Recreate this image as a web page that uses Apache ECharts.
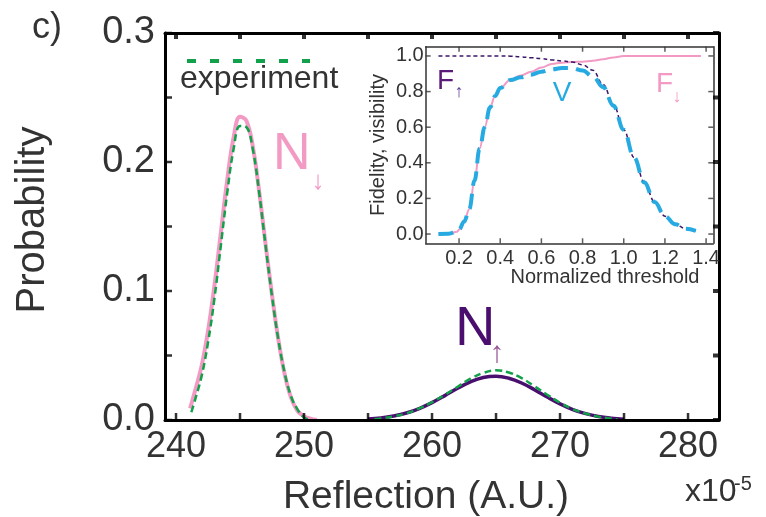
<!DOCTYPE html>
<html>
<head>
<meta charset="utf-8">
<script src="https://cdn.jsdelivr.net/npm/echarts@6/dist/echarts.min.js"></script>
<style>
html,body{margin:0;padding:0;background:#fff;}
#chart{width:766px;height:517px;}
</style>
</head>
<body>
<div id="chart"></div>
<script>
// ---------- Main panel data (Reflection x10^-5, Probability) ----------
var downTheoryX = [241.1, 241.5, 242, 242.5, 243, 243.5, 244, 244.5, 245, 245.5, 246, 246.5, 247, 247.5, 248, 248.5, 249, 249.5, 250, 250.5, 251];
var downTheoryY = [0.009, 0.023, 0.042, 0.069, 0.104, 0.145, 0.186, 0.219, 0.235, 0.232, 0.212, 0.177, 0.136, 0.097, 0.062, 0.035, 0.017, 0.007, 0.003, 0.001, 0.0];

var downExpX = [241.2, 241.5, 242, 242.5, 243, 243.5, 244, 244.5, 245, 245.5, 246, 246.5, 247, 247.5, 248, 248.5, 249, 249.5, 250, 250.5];
var downExpY = [0.006, 0.016, 0.034, 0.060, 0.094, 0.135, 0.176, 0.210, 0.228, 0.227, 0.210, 0.176, 0.135, 0.096, 0.062, 0.036, 0.018, 0.008, 0.002, 0.0];

var upTheoryX = [255, 256, 257, 258, 259, 260, 261, 262, 263, 264, 265, 266, 267, 268, 269, 270, 271, 272, 273, 274, 275];
var upTheoryY = [0.0008, 0.0016, 0.0031, 0.0054, 0.0089, 0.0135, 0.0189, 0.0246, 0.0296, 0.0330, 0.0340, 0.0324, 0.0287, 0.0235, 0.0178, 0.0125, 0.0081, 0.0049, 0.0027, 0.0014, 0.0006];

var upExpX = [255.5, 256, 257, 258, 259, 260, 261, 262, 263, 264, 265, 266, 267, 268, 269, 270, 271, 272, 273, 274, 274.5];
var upExpY = [0.0005, 0.0012, 0.0028, 0.0052, 0.0090, 0.0138, 0.0195, 0.0258, 0.0320, 0.0365, 0.0385, 0.0368, 0.0325, 0.0262, 0.0196, 0.0134, 0.0084, 0.0050, 0.0026, 0.0010, 0.0004];

// main ticks / labels
var mainXTicks = [240, 245, 250, 255, 260, 265, 270, 275, 280];
var mainXLabelStep = 10;
var mainYTicks = [0, 0.05, 0.1, 0.15, 0.2, 0.25, 0.3];
var mainYLabelStep = 0.1;

// ---------- Inset data (Normalized threshold, Fidelity / visibility) ----------
var thr = [0.1, 0.15, 0.19, 0.2, 0.225, 0.25, 0.275, 0.3, 0.325, 0.35, 0.375, 0.4, 0.45, 0.5, 0.55, 0.6, 0.65, 0.7, 0.75, 0.8, 0.85, 0.9, 0.95, 1.0, 1.05, 1.1, 1.15, 1.2, 1.25, 1.3, 1.35];
var fidUp = [1.0, 1.0, 1.0, 1.0, 1.0, 1.0, 1.0, 1.0, 1.0, 1.0, 1.0, 1.0, 0.999, 0.995, 0.99, 0.985, 0.978, 0.972, 0.966, 0.95, 0.92, 0.84, 0.728, 0.585, 0.43, 0.29, 0.18, 0.10, 0.055, 0.03, 0.018];
var visib = [0.0, 0.002, 0.013, 0.025, 0.07, 0.14, 0.30, 0.48, 0.60, 0.71, 0.775, 0.82, 0.865, 0.88, 0.895, 0.912, 0.925, 0.932, 0.932, 0.918, 0.885, 0.825, 0.72, 0.585, 0.43, 0.29, 0.18, 0.10, 0.055, 0.03, 0.018];
var thrDown = [0.1, 0.15, 0.19, 0.2, 0.225, 0.25, 0.275, 0.3, 0.325, 0.35, 0.375, 0.4, 0.45, 0.5, 0.55, 0.6, 0.65, 0.7, 0.75, 0.8, 0.85, 0.9, 0.95, 1.0, 1.1, 1.2, 1.3, 1.375];
var fidDown = [0.0, 0.002, 0.013, 0.025, 0.07, 0.14, 0.30, 0.48, 0.60, 0.71, 0.775, 0.82, 0.866, 0.89, 0.912, 0.935, 0.955, 0.962, 0.966, 0.968, 0.973, 0.982, 0.992, 1.0, 1.0, 1.0, 1.0, 1.0];

var insetXTicks = [0.2, 0.4, 0.6, 0.8, 1.0, 1.2, 1.4];
var insetYTicks = [0.0, 0.2, 0.4, 0.6, 0.8, 1.0];

function pairs(xs, ys) { return xs.map(function (x, i) { return [x, ys[i]]; }); }

// ---------- layout ----------
var FONT = "'Liberation Sans', Arial, Helvetica, sans-serif";
var PINK = '#f39ac4';
var GREEN = '#12a04a';
var PURPLE = '#4a0f6e';
var BLUE = '#27aae1';
var TXT = '#333333';

var MF = {left: 165, top: 33, width: 554, height: 387, xmin: 239.14, xmax: 282.42, ymin: 0, ymax: 0.3};
var IF = {left: 425.7, top: 46.7, width: 287.6, height: 196.6, xmin: 0.038, xmax: 1.435, ymin: -0.052, ymax: 1.052};

function xSpan(F, x0, x1) {
  var s = F.width / (F.xmax - F.xmin);
  var l = F.left + (x0 - F.xmin) * s, r = F.left + (x1 - F.xmin) * s;
  return {left: l, width: r - l, top: F.top, height: F.height};
}
function ySpan(F, y0, y1) {
  var s = F.height / (F.ymax - F.ymin);
  var t = F.top + (F.ymax - y1) * s, b = F.top + (F.ymax - y0) * s;
  return {left: F.left, width: F.width, top: t, height: b - t};
}
var first = function (a) { return a[0]; }, last = function (a) { return a[a.length - 1]; };
var MX = xSpan(MF, first(mainXTicks), last(mainXTicks));
var IX = xSpan(IF, first(insetXTicks), last(insetXTicks));
var IY = ySpan(IF, first(insetYTicks), last(insetYTicks));

function isMultiple(v, step) { var q = v / step; return Math.abs(q - Math.round(q)) < 1e-6; }

var chart = echarts.init(document.getElementById('chart'), null, {renderer: 'canvas'});

function lineAxis(grid, pos, min, max, color, width) {
  return {type: 'value', gridIndex: grid, min: min, max: max, position: pos, z: 6,
          axisLine: {show: true, onZero: false, lineStyle: {color: color, width: width}},
          axisTick: {show: false}, axisLabel: {show: false}, splitLine: {show: false}};
}
function hiddenAxis(grid, min, max) {
  return {type: 'value', gridIndex: grid, min: min, max: max, show: false, splitLine: {show: false}};
}
function labelAxis(grid, pos, min, max, step, label) {
  return {type: 'value', gridIndex: grid, min: min, max: max, interval: step, position: pos, z: 7,
          axisLine: {show: false, onZero: false}, axisTick: {show: false}, axisLabel: label, splitLine: {show: false}};
}

// tick marks drawn as small rectangles at the tick values (through the axes' scales)
function tickSeries(xi, yi, data, w, h, ox, oy, color) {
  return {type: 'scatter', xAxisIndex: xi, yAxisIndex: yi, data: data, symbol: 'rect', symbolSize: [w, h],
          symbolOffset: [ox, oy], itemStyle: {color: color}, silent: true, clip: false, z: 8,
          emphasis: {disabled: true}, tooltip: {show: false}};
}
var atY = function (vals, y) { return vals.map(function (v) { return [v, y]; }); };
var atX = function (vals, x) { return vals.map(function (v) { return [x, v]; }); };

var option = {
  animation: false,
  backgroundColor: '#ffffff',
  grid: [
    {left: MF.left, top: MF.top, width: MF.width, height: MF.height},
    {left: MX.left, top: MX.top, width: MX.width, height: MX.height},
    {left: IF.left, top: IF.top, width: IF.width, height: IF.height, show: true, backgroundColor: '#ffffff', borderWidth: 0, z: 3},
    {left: IX.left, top: IX.top, width: IX.width, height: IX.height},
    {left: IY.left, top: IY.top, width: IY.width, height: IY.height}
  ],
  xAxis: [
    lineAxis(0, 'bottom', MF.xmin, MF.xmax, '#000', 3),                                   // 0
    lineAxis(0, 'top', MF.xmin, MF.xmax, '#000', 3),                                      // 1
    labelAxis(1, 'bottom', first(mainXTicks), last(mainXTicks), mainXTicks[1] - mainXTicks[0],
      {fontSize: 36, color: TXT, fontFamily: FONT, margin: 9, showMinLabel: true, showMaxLabel: true,
       formatter: function (v) { return isMultiple(v, mainXLabelStep) ? String(Math.round(v)) : ''; }}), // 2
    lineAxis(2, 'bottom', IF.xmin, IF.xmax, '#333', 1.5),                                 // 3
    lineAxis(2, 'top', IF.xmin, IF.xmax, '#333', 1.5),                                    // 4
    labelAxis(3, 'bottom', first(insetXTicks), last(insetXTicks), 0.2,
      {fontSize: 20, color: TXT, fontFamily: FONT, margin: 5, showMinLabel: true, showMaxLabel: true,
       formatter: function (v) { return v.toFixed(1); }}),                               // 5
    hiddenAxis(4, IF.xmin, IF.xmax)                                                       // 6
  ],
  yAxis: [
    labelAxis(0, 'left', MF.ymin, MF.ymax, mainYTicks[1] - mainYTicks[0],
      {fontSize: 38, color: TXT, fontFamily: FONT, margin: 10, showMinLabel: true, showMaxLabel: true,
       formatter: function (v) { return isMultiple(v, mainYLabelStep) ? v.toFixed(1) : ''; }}), // 0
    lineAxis(0, 'left', MF.ymin, MF.ymax, '#000', 3),                                     // 1
    lineAxis(0, 'right', MF.ymin, MF.ymax, '#000', 3),                                    // 2
    hiddenAxis(1, MF.ymin, MF.ymax),                                                      // 3
    lineAxis(2, 'left', IF.ymin, IF.ymax, '#333', 1.5),                                   // 4
    lineAxis(2, 'right', IF.ymin, IF.ymax, '#333', 1.5),                                  // 5
    hiddenAxis(3, IF.ymin, IF.ymax),                                                      // 6
    labelAxis(4, 'left', first(insetYTicks), last(insetYTicks), 0.2,
      {fontSize: 20, color: TXT, fontFamily: FONT, margin: 2, showMinLabel: true, showMaxLabel: true,
       formatter: function (v) { return v.toFixed(1); }})                                // 7
  ],
  series: [
    {name: 'N down (theory)', type: 'line', xAxisIndex: 0, yAxisIndex: 1, data: pairs(downTheoryX, downTheoryY),
     smooth: 0.4, showSymbol: false, lineStyle: {color: PINK, width: 4}, z: 2},
    {name: 'N up (theory)', type: 'line', xAxisIndex: 0, yAxisIndex: 1, data: pairs(upTheoryX, upTheoryY),
     smooth: 0.4, showSymbol: false, lineStyle: {color: PURPLE, width: 3.5}, z: 2},
    {name: 'experiment', type: 'line', xAxisIndex: 0, yAxisIndex: 1, data: pairs(downExpX, downExpY),
     smooth: 0.4, showSymbol: false, lineStyle: {color: GREEN, width: 2.5, type: [7, 4]}, z: 3},
    {name: 'experiment up', type: 'line', xAxisIndex: 0, yAxisIndex: 1, data: pairs(upExpX, upExpY),
     smooth: 0.4, showSymbol: false, lineStyle: {color: GREEN, width: 2.5, type: [7, 4]}, z: 3},
    {name: 'F down', type: 'line', xAxisIndex: 3, yAxisIndex: 4, data: pairs(thrDown, fidDown),
     smooth: 0.4, smoothMonotone: 'x', showSymbol: false, lineStyle: {color: PINK, width: 2}, z: 5},
    {name: 'F up', type: 'line', xAxisIndex: 3, yAxisIndex: 4, data: pairs(thr, fidUp),
     smooth: 0.4, smoothMonotone: 'x', showSymbol: false, lineStyle: {color: '#3d1668', width: 1.5, type: [4, 3]}, z: 5},
    {name: 'V', type: 'line', xAxisIndex: 3, yAxisIndex: 4, data: pairs(thr, visib),
     smooth: 0.4, smoothMonotone: 'x', showSymbol: false, lineStyle: {color: BLUE, width: 4, type: [15, 8]}, z: 6},
    // main frame ticks (inward)
    tickSeries(0, 1, atY(mainXTicks, MF.ymin), 2.5, 7, 0, -3.5, '#000'),
    tickSeries(0, 1, atY(mainXTicks, MF.ymax), 4, 6, 0, 3, '#000'),
    tickSeries(0, 1, atX(mainYTicks, MF.xmin), 7, 2.5, 3.5, 0, '#000'),
    tickSeries(0, 1, atX(mainYTicks, MF.xmax), 6, 4, -3, 0, '#000'),
    // inset ticks (inward)
    tickSeries(3, 4, atY(insetXTicks, IF.ymin), 1.5, 5, 0, -2.5, '#333'),
    tickSeries(3, 4, atY(insetXTicks, IF.ymax), 1.5, 5, 0, 2.5, '#333'),
    tickSeries(3, 4, atX(insetYTicks, IF.xmin), 5, 1.5, 2.5, 0, '#333'),
    tickSeries(3, 4, atX(insetYTicks, IF.xmax), 5, 1.5, -2.5, 0, '#333')
  ],
  graphic: [
    {type: 'text', x: 32, y: 28, z: 10, style: {text: 'c)', font: '36px ' + FONT, fill: TXT, textAlign: 'left', textVerticalAlign: 'middle'}},
    {type: 'text', x: 33, y: 220, rotation: Math.PI / 2, z: 10, style: {text: 'Probability', font: '40px ' + FONT, fill: TXT, textAlign: 'center', textVerticalAlign: 'middle'}},
    {type: 'text', x: 426, y: 497, z: 10, style: {text: 'Reflection (A.U.)', font: '39px ' + FONT, fill: TXT, textAlign: 'center', textVerticalAlign: 'middle'}},
    {type: 'text', x: 685, y: 492, z: 10, style: {text: 'x10', font: '32px ' + FONT, fill: TXT, textAlign: 'left', textVerticalAlign: 'middle'}},
    {type: 'text', x: 734, y: 484, z: 10, style: {text: '-5', font: '20px ' + FONT, fill: TXT, textAlign: 'left', textVerticalAlign: 'middle'}},
    {type: 'line', z: 10, shape: {x1: 187, y1: 61, x2: 310, y2: 61}, style: {stroke: GREEN, lineWidth: 4, lineDash: [9, 14]}},
    {type: 'text', x: 180, y: 79, z: 10, style: {text: 'experiment', font: '32px ' + FONT, fill: TXT, textAlign: 'left', textVerticalAlign: 'middle'}},
    {type: 'text', x: 273, y: 155, z: 10, style: {text: 'N', font: '52px ' + FONT, fill: PINK, textAlign: 'left', textVerticalAlign: 'middle'}},
    {type: 'text', x: 318, y: 182, z: 10, style: {text: '\u2193', font: '26px ' + FONT, fill: PINK, textAlign: 'center', textVerticalAlign: 'middle'}},
    {type: 'text', x: 455, y: 330, z: 10, style: {text: 'N', font: '56px ' + FONT, fill: PURPLE, textAlign: 'left', textVerticalAlign: 'middle'}},
    {type: 'text', x: 497, y: 354, z: 10, style: {text: '\u2191', font: '30px ' + FONT, fill: '#9a5a96', textAlign: 'center', textVerticalAlign: 'middle'}},
    {type: 'text', x: 378, y: 145, rotation: Math.PI / 2, z: 10, style: {text: 'Fidelity, visibility', font: '20px ' + FONT, fill: TXT, textAlign: 'center', textVerticalAlign: 'middle'}},
    {type: 'text', x: 605, y: 277, z: 10, style: {text: 'Normalized threshold', font: '20px ' + FONT, fill: TXT, textAlign: 'center', textVerticalAlign: 'middle'}},
    {type: 'text', x: 437, y: 81, z: 10, style: {text: 'F', font: '28px ' + FONT, fill: '#5a1a7a', textAlign: 'left', textVerticalAlign: 'middle'}},
    {type: 'text', x: 459, y: 92, z: 10, style: {text: '\u2191', font: '18px ' + FONT, fill: '#5a3a9a', textAlign: 'center', textVerticalAlign: 'middle'}},
    {type: 'text', x: 562, y: 93, z: 10, style: {text: 'V', font: '28px ' + FONT, fill: BLUE, textAlign: 'center', textVerticalAlign: 'middle'}},
    {type: 'text', x: 656, y: 84, z: 10, style: {text: 'F', font: '28px ' + FONT, fill: PINK, textAlign: 'left', textVerticalAlign: 'middle'}},
    {type: 'text', x: 677, y: 97, z: 10, style: {text: '\u2193', font: '18px ' + FONT, fill: PINK, textAlign: 'center', textVerticalAlign: 'middle'}}
  ]
};
chart.setOption(option);
</script>
</body>
</html>
